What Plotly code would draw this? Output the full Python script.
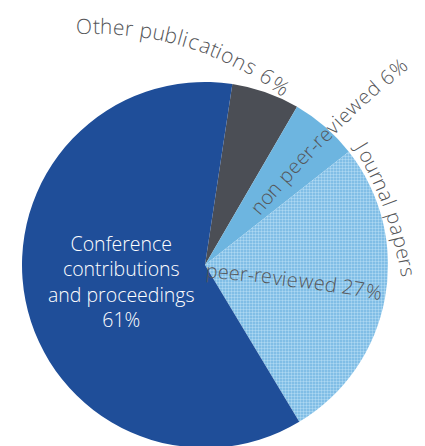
import math
import plotly.graph_objects as go

# ---------------- data ----------------
categories = ["Other publications", "Journal papers – non peer-reviewed",
              "Journal papers – peer-reviewed", "Conference contributions and proceedings"]
values = [6, 6, 27, 61]

label_other = "Other publications 6%"
label_nonpeer = "non peer-reviewed 6%"
label_journal = "Journal papers"
label_peer = "peer-reviewed 27%"
label_conf_lines = ["Conference", "contributions", "and proceedings", "61%"]

# ---------------- style / layout ----------------
W, H = 425, 446
OFF = 8  # page body margin compensation
slice_colors = ["#4B4E55", "#6DB5E0", "#7ABCE5", "#1F4E99"]
TXT = "#555659"
FONT = "Open Sans"
FW = 300

# approximate relative advance widths (1/1000 em)
CW = {' ': 278, '%': 889, '-': 333, 'C': 722, 'J': 500, 'O': 778,
      'a': 556, 'b': 556, 'c': 500, 'd': 556, 'e': 556, 'f': 278, 'g': 556, 'h': 556,
      'i': 222, 'j': 222, 'k': 500, 'l': 222, 'm': 833, 'n': 556, 'o': 556, 'p': 556,
      'q': 556, 'r': 333, 's': 500, 't': 278, 'u': 556, 'v': 500, 'w': 722, 'x': 500,
      'y': 500, 'z': 500}

annotations = []


def to_paper(px, py):
    return (px - OFF) / W, 1 - (py - OFF) / H


def arc_text(text, cx, cy, r, a0, a1, size, color):
    widths = [CW.get(ch, 556) for ch in text]
    total = float(sum(widths))
    cum = 0.0
    for ch, w in zip(text, widths):
        t = (cum + w / 2.0) / total
        cum += w
        if ch == ' ':
            continue
        th = a0 + (a1 - a0) * t
        rad = math.radians(th)
        x, y = to_paper(cx + r * math.sin(rad), cy - r * math.cos(rad))
        annotations.append(dict(
            x=x, y=y, xref="paper", yref="paper", text=ch,
            showarrow=False, textangle=th, xanchor="center", yanchor="middle",
            font=dict(family=FONT, size=size, color=color, weight=FW)))


arc_text(label_other, 97, 338, 312, -4.1, 38.0, 21, TXT)
arc_text(label_nonpeer, 1094, 906, 1090, -50.4, -39.2, 20, TXT)
arc_text(label_journal, 62, 326, 350, 58.0, 82.0, 20, TXT)
arc_text(label_peer, 42, 2225, 1962, 4.8, 10.0, 20, TXT)

# centre label of the large slice (one multi-line text)
cx, cy = to_paper(121, 281)
annotations.append(dict(
    x=cx, y=cy, xref="paper", yref="paper", text="<br>".join(label_conf_lines),
    showarrow=False, xanchor="center", yanchor="middle", align="center",
    font=dict(family=FONT, size=19.5, color="white", weight=FW)))

# pie centre (205, 265) on screen, radius 183
PCX, PCY, PR = 205, 265, 183
fig = go.Figure(go.Pie(
    labels=categories, values=values, sort=False, direction="clockwise",
    rotation=8.6, textinfo="none", hoverinfo="label+percent",
    marker=dict(colors=slice_colors, line=dict(width=0),
                pattern=dict(shape=["", "", ".", ""], fgcolor="#ADD8F2",
                             bgcolor=["#4B4E55", "#6DB5E0", "#72B6E2", "#1F4E99"],
                             size=3, solidity=0.5, fillmode="replace")),
    domain=dict(x=[(PCX - OFF - PR) / W, (PCX - OFF + PR) / W],
                y=[1 - (PCY - OFF + PR) / H, 1 - (PCY - OFF - PR) / H]),
    showlegend=False))

fig.update_layout(width=W, height=H, autosize=False,
                  margin=dict(l=0, r=0, t=0, b=0),
                  paper_bgcolor="white", plot_bgcolor="white",
                  annotations=annotations)

fig.write_html("out.html")
